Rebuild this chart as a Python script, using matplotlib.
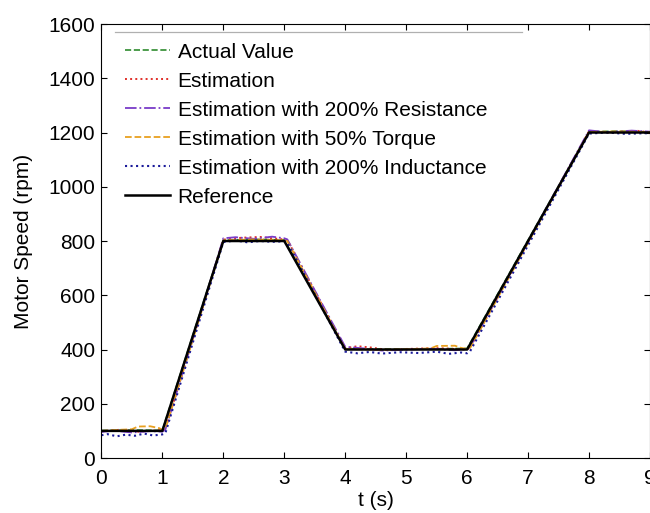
import matplotlib.pyplot as plt
from matplotlib.lines import Line2D

plt.rcParams['font.family'] = ['Liberation Sans', 'DejaVu Sans']

# reference speed profile
t_ref = [0, 1, 2, 3, 4, 6, 8, 9]
spd_ref = [100, 100, 800, 800, 400, 400, 1200, 1200]

# actual value
t_act = [0, 0.5, 1, 2, 2.5, 3, 4, 5, 6, 8, 8.5, 9]
spd_act = [101, 103, 102, 803, 806, 804, 403, 401, 404, 1203, 1205, 1202]

# estimation
t_est = [0, 0.3, 0.6, 1.0, 1.05, 2.0, 2.3, 2.6, 2.9, 3.05, 4.0, 4.2, 4.4, 4.7,
         5.0, 5.5, 6.0, 6.05, 8.0, 8.4, 8.8, 9.0]
spd_est = [98, 104, 97, 103, 108, 805, 812, 815, 808, 804, 405, 412, 408, 398,
           402, 405, 400, 408, 1205, 1198, 1206, 1200]

# estimation with 200% resistance
t_res = [0, 0.2, 0.5, 0.8, 1.0, 1.05, 2.0, 2.2, 2.5, 2.8, 3.0, 3.05, 4.0, 4.3,
         4.6, 5.0, 5.4, 5.8, 6.0, 6.05, 8.0, 8.3, 8.7, 9.0]
spd_res = [96, 101, 94, 99, 97, 105, 810, 814, 808, 816, 810, 806, 410, 404,
           396, 399, 403, 397, 402, 410, 1208, 1201, 1207, 1203]

# estimation with 50% torque
t_trq = [0, 0.3, 0.5, 0.6, 0.8, 0.95, 1.0, 1.05, 2.0, 2.5, 3.0, 3.05, 4.0, 4.5,
         5.0, 5.4, 5.5, 5.8, 5.9, 6.0, 6.05, 8.0, 8.5, 9.0]
spd_trq = [100, 104, 106, 116, 117, 110, 104, 108, 802, 806, 803, 800, 402, 399,
           401, 404, 413, 414, 406, 402, 406, 1202, 1204, 1201]

# estimation with 200% inductance
t_ind = [0, 0.1, 0.25, 0.4, 0.55, 0.7, 0.85, 1.0, 1.05, 2.0, 2.2, 2.4, 2.6, 2.8,
         3.0, 3.05, 4.0, 4.2, 4.4, 4.6, 4.9, 5.2, 5.5, 5.7, 5.9, 6.0, 6.05, 8.0,
         8.3, 8.6, 9.0]
spd_ind = [84, 88, 80, 86, 82, 90, 83, 87, 92, 796, 802, 795, 800, 797,
           799, 795, 392, 386, 391, 385, 390, 387, 392, 384, 389, 386, 394, 1196,
           1200, 1195, 1198]

fig = plt.figure(figsize=(6.5, 5.13), dpi=100)
ax = fig.add_axes([0.156, 0.1072, 0.844, 0.846])

ax.plot(t_act, spd_act, color='#2e8b2e', ls='--', lw=1.2, label='Actual Value')
ax.plot(t_est, spd_est, color='#e0302a', ls=':', lw=1.4, label='Estimation')
ax.plot(t_res, spd_res, color='#7a3cc8', ls='-.', lw=1.3,
        label='Estimation with 200% Resistance')
ax.plot(t_trq, spd_trq, color='#e8a020', ls='--', lw=1.3,
        label='Estimation with 50% Torque')
ax.plot(t_ind, spd_ind, color='#1a1a9a', ls=':', lw=1.5,
        label='Estimation with 200% Inductance')
ax.plot(t_ref, spd_ref, color='black', ls='-', lw=1.8, label='Reference')

ax.set_xlim(0, 9)
ax.set_ylim(0, 1600)
ax.set_xticks(range(0, 10))
ax.set_yticks(range(0, 1601, 200))
ax.tick_params(direction='in', top=True, right=True, labelsize=15,
               length=4, width=0.8)
ax.tick_params(axis='x', pad=8)
ax.tick_params(axis='y', pad=4.5)
ax.set_xlabel('t (s)', fontsize=15)
ax.set_ylabel('Motor Speed (rpm)', fontsize=15)
ax.xaxis.set_label_coords(0.5, -0.076)
ax.yaxis.set_label_coords(-0.125, 0.5)

leg = ax.legend(loc='upper left', bbox_to_anchor=(0.043, 0.957), frameon=False,
                fontsize=15, handlelength=2.15, handletextpad=0.38,
                labelspacing=0.48, borderaxespad=0.0, borderpad=0.0)

# faint line along top of legend box
ax.add_line(Line2D([0.0246, 0.7666], [0.9816, 0.9816], transform=ax.transAxes,
                   color='#b0b0b0', lw=0.9))

fig.savefig('out.png', dpi=100)
